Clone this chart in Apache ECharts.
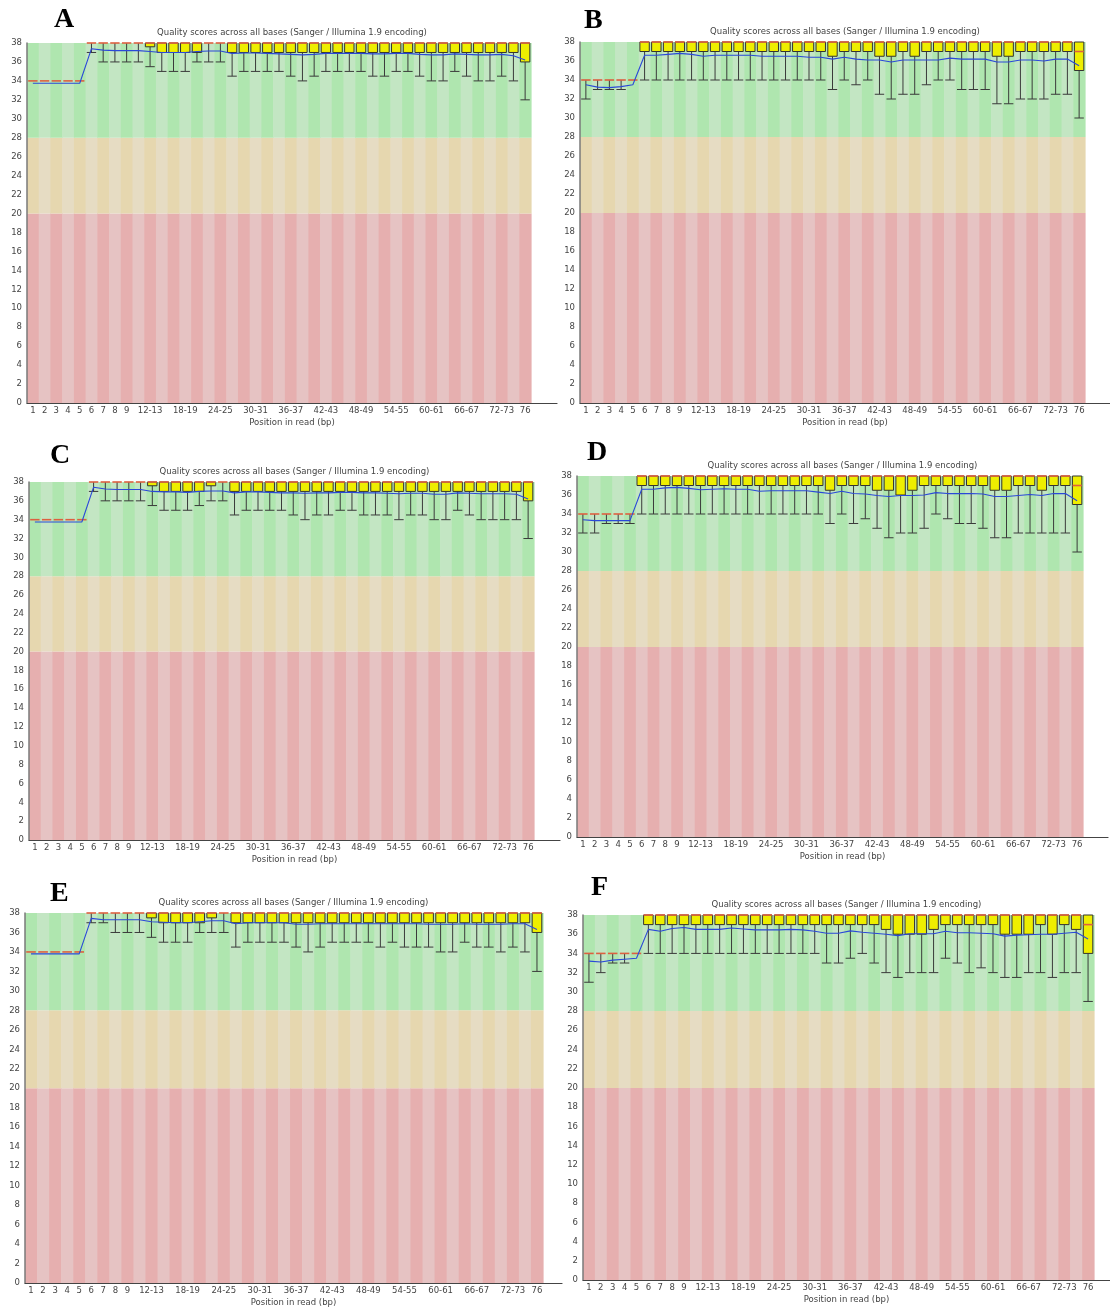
<!DOCTYPE html>
<html>
<head>
<meta charset="utf-8">
<script src="https://cdn.jsdelivr.net/npm/echarts@6/dist/echarts.min.js"></script>
<style>
html,body{margin:0;padding:0;background:#fff;}
#c{width:1110px;height:1310px;}
</style>
</head>
<body>
<div id="c"></div>
<script>
// ---------------- DATA ----------------
const categories = ['1','2','3','4','5','6','7','8','9','10-11','12-13','14-15','16-17','18-19','20-21','22-23','24-25','26-27','28-29','30-31','32-33','34-35','36-37','38-39','40-41','42-43','44-45','46-47','48-49','50-51','52-53','54-55','56-57','58-59','60-61','62-63','64-65','66-67','68-69','70-71','72-73','74-75','76'];
const panelLetters = ['A','B','C','D','E','F'];
const chartTitle = 'Quality scores across all bases (Sanger / Illumina 1.9 encoding)';
const xAxisTitle = 'Position in read (bp)';
const zoneBounds = [0, 20, 28, 38];   // red / orange / green quality zones
const yMin = 0, yMax = 38, yStep = 2;

// Panel A
const A_low  = [34,34,34,34,34, 37,36,36,36,36, 35.5,35,35,35,36, 36,36,34.5,35,35, 35,35,34.5,34,34.5, 35,35,35,35,34.5, 34.5,35,35,34.5,34, 34,35,34.5,34,34, 34.5,34,32];
const A_q1   = [34,34,34,34,34, 38,38,38,38,38, 37.6,37,37,37,37, 38,38,37,37,37, 37,37,37,37,37, 37,37,37,37,37, 37,37,37,37,37, 37,37,37,37,37, 37,37,36];
const A_med  = [34,34,34,34,34, 38,38,38,38,38, 38,38,38,38,38, 38,38,38,38,38, 38,38,38,38,38, 38,38,38,38,38, 38,38,38,38,38, 38,38,38,38,38, 38,38,38];
const A_q3   = [34,34,34,34,34, 38,38,38,38,38, 38,38,38,38,38, 38,38,38,38,38, 38,38,38,38,38, 38,38,38,38,38, 38,38,38,38,38, 38,38,38,38,38, 38,38,38];
const A_mean = [33.75,33.75,33.75,33.75,33.75, 37.4,37.25,37.2,37.2,37.2, 37.1,37.0,37.0,37.0,37.1, 37.15,37.15,36.9,36.95,36.95, 36.9,36.85,36.8,36.75,36.8, 36.9,36.9,36.9,36.9,36.85, 36.85,36.9,36.9,36.8,36.75, 36.75,36.85,36.8,36.75,36.75, 36.8,36.65,36.2];

// Panel B
const B_low  = [32,33,33,33,34, 34,34,34,34,34, 34,34,34,34,34, 34,34,34,34,34, 34,33,34,33.5,34, 32.5,32,32.5,32.5,33.5, 34,34,33,33,33, 31.5,31.5,32,32,32, 32.5,32.5,30];
const B_q1   = [34,34,34,34,34, 37,37,37,37,37, 37,37,37,37,37, 37,37,37,37,37, 37,36.5,37,37,37, 36.5,36.5,37,36.5,37, 37,37,37,37,37, 36.5,36.5,37,37,37, 37,37,35];
const B_med  = [34,34,34,34,34, 38,38,38,38,38, 38,38,38,38,38, 38,38,38,38,38, 38,38,38,38,38, 38,38,38,38,38, 38,38,38,38,38, 38,38,38,38,38, 38,38,37];
const B_q3   = [34,34,34,34,34, 38,38,38,38,38, 38,38,38,38,38, 38,38,38,38,38, 38,38,38,38,38, 38,38,38,38,38, 38,38,38,38,38, 38,38,38,38,38, 38,38,38];
const B_mean = [33.5,33.25,33.2,33.3,33.5, 36.6,36.6,36.7,36.8,36.7, 36.5,36.6,36.6,36.6,36.6, 36.5,36.5,36.5,36.5,36.4, 36.4,36.2,36.4,36.2,36.1, 36.1,35.9,36.1,36.1,36.1, 36.1,36.3,36.2,36.2,36.2, 35.9,35.9,36.1,36.1,36.0, 36.2,36.2,35.5];

// Panel C
const C_low  = [34,34,34,34,34, 37,36,36,36,36, 35.5,35,35,35,35.5, 36,36,34.5,35,35, 35,35,34.5,34,34.5, 34.5,35,35,34.5,34.5, 34.5,34,34.5,34.5,34, 34,35,34.5,34,34, 34,34,32];
const C_q1   = [34,34,34,34,34, 38,38,38,38,38, 37.6,37,37,37,37, 37.6,38,37,37,37, 37,37,37,37,37, 37,37,37,37,37, 37,37,37,37,37, 37,37,37,37,37, 37,37,36];
const C_med  = [34,34,34,34,34, 38,38,38,38,38, 38,38,38,38,38, 38,38,38,38,38, 38,38,38,38,38, 38,38,38,38,38, 38,38,38,38,38, 38,38,38,38,38, 38,38,38];
const C_q3   = [34,34,34,34,34, 38,38,38,38,38, 38,38,38,38,38, 38,38,38,38,38, 38,38,38,38,38, 38,38,38,38,38, 38,38,38,38,38, 38,38,38,38,38, 38,38,38];
const C_mean = [33.75,33.75,33.75,33.75,33.75, 37.45,37.25,37.2,37.2,37.2, 37.0,36.95,36.95,36.9,37.0, 37.05,37.05,36.85,36.95,36.95, 36.9,36.85,36.85,36.8,36.85, 36.85,36.9,36.9,36.85,36.85, 36.8,36.75,36.8,36.8,36.7, 36.7,36.85,36.8,36.75,36.75, 36.75,36.7,36.2];

// Panel D
const D_low  = [32,32,33,33,33, 34,34,34,34,34, 34,34,34,34,34, 34,34,34,34,34, 34,33,34,33,33.5, 32.5,31.5,32,32,32.5, 34,33.5,33,33,32.5, 31.5,31.5,32,32,32, 32,32,30];
const D_q1   = [34,34,34,34,34, 37,37,37,37,37, 37,37,37,37,37, 37,37,37,37,37, 37,36.5,37,37,37, 36.5,36.5,36,36.5,37, 37,37,37,37,37, 36.5,36.5,37,37,36.5, 37,37,35];
const D_med  = [34,34,34,34,34, 38,38,38,38,38, 38,38,38,38,38, 38,38,38,38,38, 38,38,38,38,38, 38,38,38,38,38, 38,38,38,38,38, 38,38,38,38,38, 38,38,37];
const D_q3   = [34,34,34,34,34, 38,38,38,38,38, 38,38,38,38,38, 38,38,38,38,38, 38,38,38,38,38, 38,38,38,38,38, 38,38,38,38,38, 38,38,38,38,38, 38,38,38];
const D_mean = [33.4,33.3,33.3,33.3,33.3, 36.6,36.6,36.75,36.8,36.7, 36.55,36.6,36.65,36.6,36.6, 36.4,36.45,36.45,36.45,36.45, 36.3,36.15,36.4,36.15,36.1, 35.95,35.85,35.95,35.95,36.0, 36.25,36.15,36.15,36.15,36.1, 35.85,35.85,35.95,36.05,35.95, 36.15,36.15,35.4];

// Panel E
const E_low  = [34,34,34,34,34, 37,37,36,36,36, 35.5,35,35,35,36, 36,36,34.5,35,35, 35,35,34.5,34,34.5, 35,35,35,35,34.5, 35,34.5,34.5,34.5,34, 34,35,34.5,34.5,34, 34.5,34,32];
const E_q1   = [34,34,34,34,34, 38,38,38,38,38, 37.5,37,37,37,37, 37.5,38,37,37,37, 37,37,37,37,37, 37,37,37,37,37, 37,37,37,37,37, 37,37,37,37,37, 37,37,36];
const E_med  = [34,34,34,34,34, 38,38,38,38,38, 38,38,38,38,38, 38,38,38,38,38, 38,38,38,38,38, 38,38,38,38,38, 38,38,38,38,38, 38,38,38,38,38, 38,38,38];
const E_q3   = [34,34,34,34,34, 38,38,38,38,38, 38,38,38,38,38, 38,38,38,38,38, 38,38,38,38,38, 38,38,38,38,38, 38,38,38,38,38, 38,38,38,38,38, 38,38,38];
const E_mean = [33.8,33.8,33.8,33.8,33.8, 37.45,37.3,37.3,37.3,37.3, 37.1,37.05,37.0,37.0,37.1, 37.2,37.2,36.9,37.0,37.0, 37.0,37.0,36.85,36.85,36.9, 36.9,36.9,36.9,36.9,36.9, 36.9,36.9,36.9,36.85,36.85, 36.85,36.9,36.85,36.85,36.85, 36.9,36.9,36.3];

// Panel F
const F_low  = [31,32,33,33,34, 34,34,34,34,34, 34,34,34,34,34, 34,34,34,34,34, 33,33,33.5,34,33, 32,31.5,32,32,32, 33.5,33,32,32.5,32, 31.5,31.5,32,32,31.5, 32,32,29];
const F_q1   = [34,34,34,34,34, 37,37,37,37,37, 37,37,37,37,37, 37,37,37,37,37, 37,37,37,37,37, 36.5,36,36,36,36.5, 37,37,37,37,37, 36,36,36,37,36, 37,36.5,34];
const F_med  = [34,34,34,34,34, 38,38,38,38,38, 38,38,38,38,38, 38,38,38,38,38, 38,38,38,38,38, 38,38,38,38,38, 38,38,38,38,38, 38,38,38,38,38, 38,38,37];
const F_q3   = [34,34,34,34,34, 38,38,38,38,38, 38,38,38,38,38, 38,38,38,38,38, 38,38,38,38,38, 38,38,38,38,38, 38,38,38,38,38, 38,38,38,38,38, 38,38,38];
const F_mean = [33.2,33.1,33.3,33.4,33.5, 36.5,36.3,36.6,36.7,36.5, 36.5,36.5,36.65,36.55,36.45, 36.45,36.45,36.5,36.45,36.3, 36.1,36.1,36.35,36.2,36.1, 36.0,35.85,36.05,36.05,36.05, 36.3,36.15,36.15,36.1,36.05, 35.8,35.9,35.95,36.0,36.0, 36.1,36.2,35.5];

const panelData = {
  A: {low: A_low, q1: A_q1, med: A_med, q3: A_q3, mean: A_mean},
  B: {low: B_low, q1: B_q1, med: B_med, q3: B_q3, mean: B_mean},
  C: {low: C_low, q1: C_q1, med: C_med, q3: C_q3, mean: C_mean},
  D: {low: D_low, q1: D_q1, med: D_med, q3: D_q3, mean: D_mean},
  E: {low: E_low, q1: E_q1, med: E_med, q3: E_q3, mean: E_mean},
  F: {low: F_low, q1: F_q1, med: F_med, q3: F_q3, mean: F_mean}
};

// ---------------- LAYOUT / STYLE ----------------
const layout = {
  A: {left: 27,  top: 43,  right: 531,  bottom: 403,  axisEnd: 557,  letter: [54, 6]},
  B: {left: 580, top: 42,  right: 1085, bottom: 403,  axisEnd: 1110, letter: [584, 7]},
  C: {left: 29,  top: 482, right: 534,  bottom: 840,  axisEnd: 560,  letter: [50, 442]},
  D: {left: 577, top: 476, right: 1083, bottom: 837,  axisEnd: 1108, letter: [587, 439]},
  E: {left: 25,  top: 913, right: 543,  bottom: 1283, axisEnd: 562,  letter: [50, 880]},
  F: {left: 583, top: 915, right: 1094, bottom: 1280, axisEnd: 1110, letter: [591, 874]}
};
const zoneColors = [
  ['#E6AFAF', '#E6C3C3'],   // bad (dark, light)
  ['#E6D7AF', '#E6DCC3'],   // ok
  ['#AFE6AF', '#C3E6C3']    // good
];
const FONT = 'DejaVu Sans';
const TXT = '#444';

function bandItem(params, api) {
  const i = api.value(0);
  const w = api.size([1, 0])[0];
  const cx = api.coord([i, 0])[0];
  const children = [];
  for (let z = 0; z < zoneBounds.length - 1; z++) {
    const yb = api.coord([i, zoneBounds[z]])[1];
    const yt = api.coord([i, zoneBounds[z + 1]])[1];
    children.push({
      type: 'rect',
      shape: {x: cx - w / 2, y: yt, width: w + 0.6, height: yb - yt},
      style: {fill: zoneColors[z][i % 2]}
    });
  }
  return {type: 'group', children};
}

function boxItem(params, api) {
  const i = api.value(0);
  const pLow = api.coord([i, api.value(1)]);
  const pQ1 = api.coord([i, api.value(2)]);
  const pMed = api.coord([i, api.value(3)]);
  const pQ3 = api.coord([i, api.value(4)]);
  const pHigh = api.coord([i, api.value(5)]);
  const w = api.size([1, 0])[0];
  const bw = w * 0.8;
  const cx = pLow[0];
  const x0 = cx - bw / 2, x1 = cx + bw / 2;
  const ls = {stroke: '#3a3a3a', lineWidth: 1};
  const children = [];
  if (pLow[1] - pQ1[1] > 0.5) {
    children.push({type: 'line', shape: {x1: cx, y1: pLow[1], x2: cx, y2: pQ1[1]}, style: ls});
    children.push({type: 'line', shape: {x1: x0, y1: pLow[1], x2: x1, y2: pLow[1]}, style: ls});
  }
  if (pQ3[1] - pHigh[1] > 0.5) {
    children.push({type: 'line', shape: {x1: cx, y1: pHigh[1], x2: cx, y2: pQ3[1]}, style: ls});
    children.push({type: 'line', shape: {x1: x0, y1: pHigh[1], x2: x1, y2: pHigh[1]}, style: ls});
  }
  if (pQ1[1] - pQ3[1] > 0.5) {
    children.push({type: 'rect', shape: {x: x0, y: pQ3[1], width: bw, height: pQ1[1] - pQ3[1]},
      style: {fill: '#EEEE00', stroke: '#333', lineWidth: 1}});
  }
  children.push({type: 'line', shape: {x1: x0, y1: pMed[1], x2: x1, y2: pMed[1]},
    style: {stroke: '#DD6040', lineWidth: 1.6}});
  return {type: 'group', children};
}

function showLabel(index) {
  if (index <= 8) return true;
  if (index === categories.length - 1) return true;
  return (index - 10) % 3 === 0;
}

const grids = [], xAxes = [], yAxes = [], series = [], titles = [];
panelLetters.forEach((id, k) => {
  const L = layout[id];
  const d = panelData[id];
  grids.push({left: L.left, top: L.top, width: L.right - L.left, height: L.bottom - L.top});
  grids.push({left: L.left, top: L.top, width: L.axisEnd - L.left, height: L.bottom - L.top});
  // main category axis
  xAxes.push({
    type: 'category', gridIndex: 2 * k, data: categories, boundaryGap: true,
    axisLine: {show: false}, axisTick: {show: false}, splitLine: {show: false},
    axisLabel: {interval: showLabel, fontFamily: FONT, fontSize: 8.5, color: TXT, margin: 3}
  });
  // extended bottom axis line + name
  xAxes.push({
    type: 'value', gridIndex: 2 * k + 1, min: 0, max: 1, position: 'bottom', z: 10,
    axisLine: {show: true, lineStyle: {color: '#444', width: 1.2}},
    axisTick: {show: false}, axisLabel: {show: false}, splitLine: {show: false},
    name: xAxisTitle, nameLocation: 'middle', nameGap: 15,
    nameTextStyle: {fontFamily: FONT, fontSize: 8.5, color: TXT}
  });
  // top axis used for the chart title
  xAxes.push({
    type: 'value', gridIndex: 2 * k + 1, min: 0, max: 1, position: 'top',
    axisLine: {show: false}, axisTick: {show: false}, axisLabel: {show: false}, splitLine: {show: false},
    name: chartTitle, nameLocation: 'middle', nameGap: 6,
    nameTextStyle: {fontFamily: FONT, fontSize: 8.5, color: TXT}
  });
  yAxes.push({
    type: 'value', gridIndex: 2 * k, min: yMin, max: yMax, interval: yStep, z: 10,
    axisLine: {show: true, lineStyle: {color: '#7a7a7a', width: 1.5}},
    axisTick: {show: false}, splitLine: {show: false},
    axisLabel: {fontFamily: FONT, fontSize: 8.5, color: TXT, margin: 5}
  });
  yAxes.push({type: 'value', gridIndex: 2 * k + 1, min: 0, max: 1, show: false});

  series.push({
    type: 'custom', xAxisIndex: 3 * k, yAxisIndex: 2 * k, silent: true, z: 1,
    renderItem: bandItem, encode: {x: 0},
    data: categories.map((c, i) => [i])
  });
  series.push({
    type: 'custom', xAxisIndex: 3 * k, yAxisIndex: 2 * k, silent: true, z: 3,
    renderItem: boxItem, encode: {x: 0, y: [1, 2, 3, 4, 5]},
    data: categories.map((c, i) => [i, d.low[i], d.q1[i], d.med[i], d.q3[i], d.q3[i]])
  });
  series.push({
    type: 'line', xAxisIndex: 3 * k, yAxisIndex: 2 * k, silent: true, z: 5,
    data: d.mean, symbol: 'none', animation: false,
    lineStyle: {color: '#2a48d8', width: 1.1}
  });
  titles.push({
    text: id, left: L.letter[0], top: L.letter[1], padding: 0,
    textStyle: {fontFamily: 'Liberation Serif', fontWeight: 'bold', fontSize: 28, color: '#000'}
  });
});

const chart = echarts.init(document.getElementById('c'), null, {renderer: 'canvas'});
chart.setOption({
  animation: false,
  backgroundColor: '#ffffff',
  title: titles,
  grid: grids,
  xAxis: xAxes,
  yAxis: yAxes,
  series: series
});
</script>
</body>
</html>
